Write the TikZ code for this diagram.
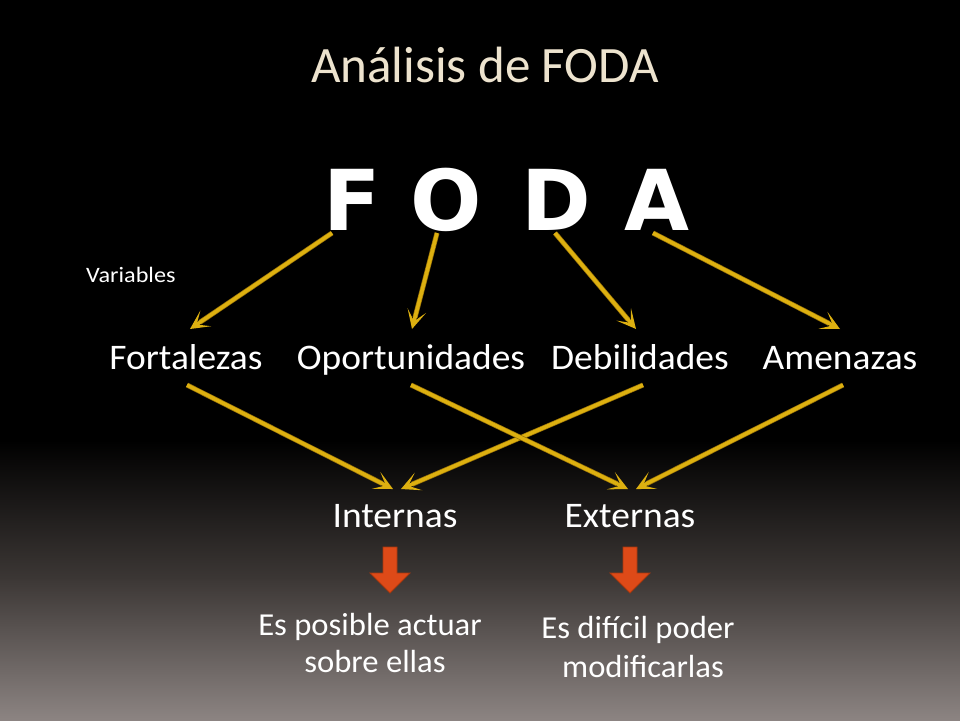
\documentclass[tikz,border=0pt]{standalone}
\usepackage{fontspec}
\setmainfont{Carlito}
\newfontfamily\bigfont{DejaVu Sans}
\usetikzlibrary{arrows.meta}
\definecolor{titlecol}{HTML}{EDE3CE}
\definecolor{gold}{HTML}{DDB010}
\definecolor{golddark}{HTML}{9A7408}
\definecolor{redarrow}{HTML}{DE4A18}
\definecolor{rededge}{HTML}{A8380E}
\definecolor{midgrey}{HTML}{3D3836}
\definecolor{lowgrey}{HTML}{8C8482}
\begin{document}
\begin{tikzpicture}[x=1pt,y=-1pt,
  lbl/.style={text=white,font=\fontsize{36}{40}\selectfont,anchor=base,inner sep=0pt,xscale=1.04},
  small/.style={text=white,font=\fontsize{32}{37}\selectfont,anchor=base,inner sep=0pt,xscale=1.02},
  letter/.style={text=white,font=\bigfont\bfseries\fontsize{84}{90}\selectfont,anchor=base,inner sep=0pt},
  goldarrow/.style={draw=gold,line width=3.6pt,-{Stealth[length=19pt,width=19pt,inset=11pt]},
     preaction={draw=golddark,line width=5pt,shorten >=12pt,-}},
  redblock/.style={fill=redarrow,draw=rededge,line width=0.8pt,line join=miter}]
% background
\fill[black] (0,0) rectangle (960,720);
\useasboundingbox (0,0) rectangle (960,720);
\shade[top color=black,bottom color=midgrey] (0,440) rectangle (960,582);
\shade[top color=midgrey,bottom color=lowgrey] (0,580) rectangle (960,720);
% title
\node[text=titlecol,font=\fontsize{51}{60}\selectfont,anchor=base,inner sep=0pt] (title) at (485,82) {Análisis de FODA};
% big letters
\node[letter] (F) at (352,230) {F};
\node[letter] (O) at (446,230) {O};
\node[letter] (D) at (556,230) {D};
\node[letter] (A) at (657,230) {A};
% variables
\node[text=white,font=\fontsize{22}{24}\selectfont,anchor=base west,inner sep=0pt,xscale=1.1] (var) at (86,282) {Variables};
% labels
\node[lbl] (fort) at (186,369) {Fortalezas};
\node[lbl] (opor) at (411,369) {Oportunidades};
\node[lbl] (debi) at (640,369) {Debilidades};
\node[lbl] (amen) at (840,369) {Amenazas};
\node[lbl] (inte) at (395,527) {Internas};
\node[lbl] (exte) at (630,527) {Externas};
% bottom texts
\node[small] (t1a) at (370,635) {Es posible actuar};
\node[small] (t1b) at (375,672) {sobre ellas};
\node[small] (t2a) at (638,638) {Es difícil poder};
\node[small] (t2b) at (643,677) {modificarlas};
% arrow coordinates
\coordinate (Fs) at (332,233);
\coordinate (Os) at (437,233);
\coordinate (Ds) at (555,233);
\coordinate (As) at (653,233);
\coordinate (fortT) at (190,329);
\coordinate (oporT) at (412,329);
\coordinate (debiT) at (636,329);
\coordinate (amenT) at (840,329);
\coordinate (fortB) at (187,385);
\coordinate (oporB) at (411,385);
\coordinate (debiB) at (643,385);
\coordinate (amenB) at (843,385);
\coordinate (inteL) at (393,489);
\coordinate (inteR) at (401,489);
\coordinate (exteL) at (628,489);
\coordinate (exteR) at (636,489);
% gold arrows
\draw[goldarrow] (Fs) -- (fortT);
\draw[goldarrow] (Os) -- (oporT);
\draw[goldarrow] (Ds) -- (debiT);
\draw[goldarrow] (As) -- (amenT);
\draw[goldarrow] (fortB) -- (inteL);
\draw[goldarrow] (debiB) -- (inteR);
\draw[goldarrow] (oporB) -- (exteL);
\draw[goldarrow] (amenB) -- (exteR);
% red block arrows
\draw[redblock] (383,547) -- (397,547) -- (397,573) -- (410,573) -- (390,593) -- (370,573) -- (383,573) -- cycle;
\draw[redblock] (623,547) -- (637,547) -- (637,573) -- (650,573) -- (630,593) -- (610,573) -- (623,573) -- cycle;
\end{tikzpicture}
\end{document}
